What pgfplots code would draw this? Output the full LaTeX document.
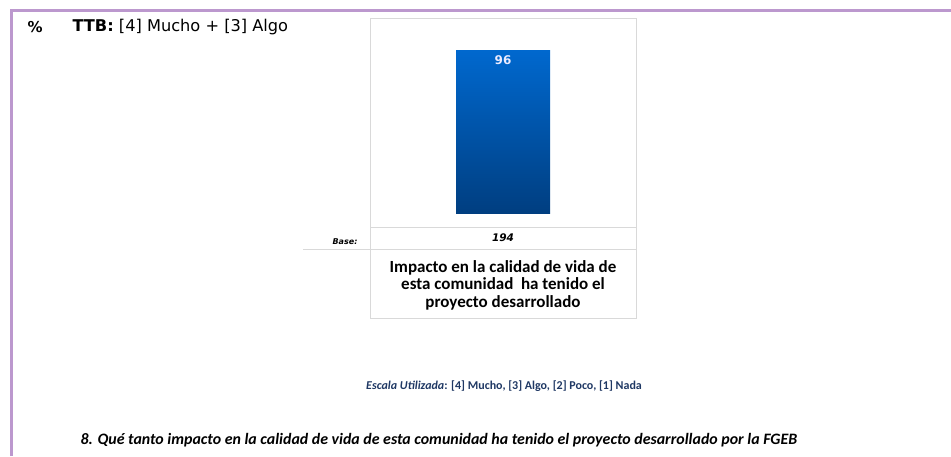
\documentclass[border=0pt]{standalone}
\usepackage{fontspec}
\setmainfont{Carlito}
\newfontfamily\tah{DejaVu Sans}
\usepackage{pgfplots}
\pgfplotsset{compat=1.18}
\definecolor{frame}{RGB}{188,152,206}
\definecolor{barTop}{RGB}{0,104,206}
\definecolor{barBot}{RGB}{0,62,128}
\definecolor{navytxt}{RGB}{31,56,100}
\definecolor{boxgray}{RGB}{217,217,217}

\begin{document}
\begin{tikzpicture}[x=1pt,y=1pt]
\path[use as bounding box] (0,0) rectangle (951,-456);
% outer page frame
\draw[frame, line width=3pt] (11,-456) -- (11,-10) -- (951,-10);

\begin{axis}[
    at={(370pt,-227pt)}, anchor=south west,
    scale only axis,
    width=266pt, height=209pt,
    xmin=-1.415, xmax=1.415,
    ymin=-7.7, ymax=115.4,
    xtick=\empty, ytick=\empty,
    axis line style={draw=boxgray},
    ybar, bar width=94pt,
    nodes near coords,
    /pgf/number format/assume math mode=true,
    every node near coord/.append style={anchor=north, yshift=-1pt, text=white!92!blue,
        font=\tah\bfseries\fontsize{12}{14}\selectfont},
    clip=false
]
\addplot[draw=none, top color=barTop, bottom color=barBot] coordinates {(0,96)};
\end{axis}

% table rows below the plot
\draw[boxgray, line width=0.8pt] (370,-227) rectangle (636,-249);
\draw[boxgray, line width=0.8pt] (370,-249) rectangle (636,-318);
\draw[boxgray, line width=0.8pt] (303,-249) -- (370,-249);
\node[font=\tah\bfseries\itshape\fontsize{10.5}{12}\selectfont] at (503,-238) {194};
\node[anchor=east, font=\tah\bfseries\itshape\fontsize{8}{9}\selectfont] at (361,-242) {Base:};
\node[align=center, font=\bfseries\fontsize{17}{17.5}\selectfont] at (503,-285)
    {Impacto en la calidad de vida de\\esta comunidad\ \ ha tenido el\\proyecto desarrollado};

% header
\node[anchor=west, font=\tah\bfseries\fontsize{15}{17}\selectfont] at (24,-27) {\%};
\node[anchor=west, font=\tah\fontsize{16.2}{18}\selectfont] at (69,-27) {\textbf{TTB:} [4] Mucho + [3] Algo};

% scale note
\node[text=navytxt, font=\bfseries\fontsize{12}{14}\selectfont] at (504,-386)
    {\textit{Escala Utilizada}: [4] Mucho, [3] Algo, [2] Poco, [1] Nada};

% question
\node[anchor=west, font=\bfseries\itshape\fontsize{15.9}{18}\selectfont] at (77,-440)
    {8. Qué tanto impacto en la calidad de vida de esta comunidad ha tenido el proyecto desarrollado por la FGEB};
\end{tikzpicture}
\end{document}
